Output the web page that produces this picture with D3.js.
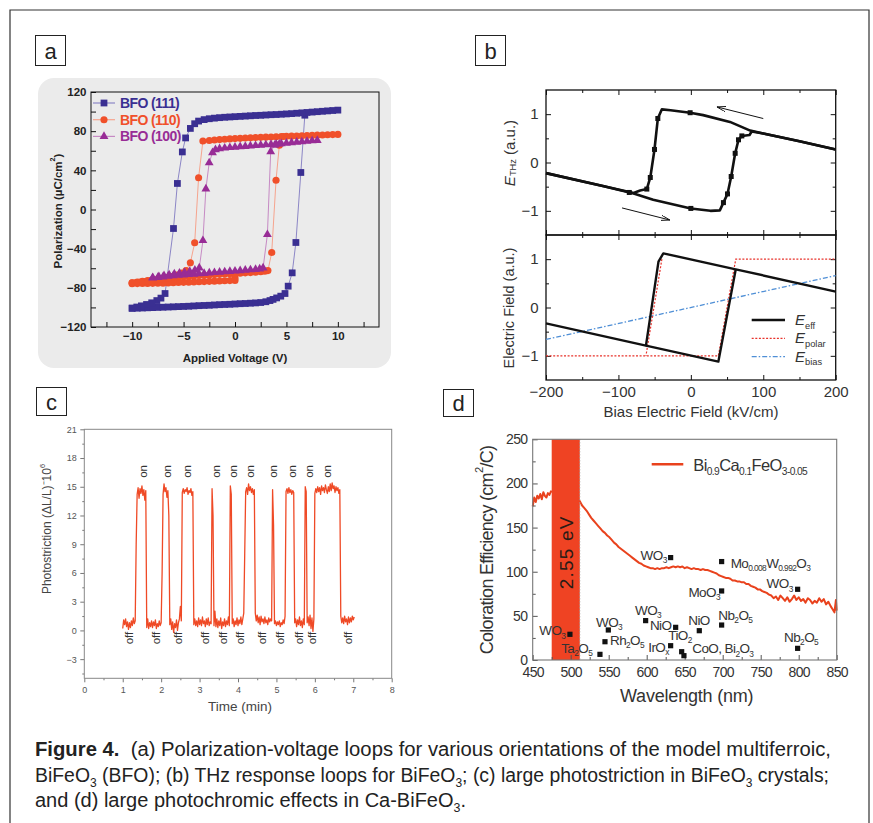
<!DOCTYPE html>
<html>
<head>
<meta charset="utf-8">
<title>Figure 4</title>
<script src="https://cdn.jsdelivr.net/npm/d3@7/dist/d3.min.js"></script>
<style>
  body { margin: 0; background: #fff; }
  svg text { font-family: "Liberation Sans", Arial, Helvetica, sans-serif; }
</style>
</head>
<body>
<svg id="fig" width="873" height="823"></svg>
<script>
// ---------- (a) P-V loops : [voltage (V), polarization (uC/cm2)] ----------
const aXTicks = [-12.5, -10, -7.5, -5, -2.5, 0, 2.5, 5, 7.5, 10, 12.5];
const aXLabels = [-10, -5, 0, 5, 10];
const aYTicks = [-120, -100, -80, -60, -40, -20, 0, 20, 40, 60, 80, 100, 120];
const aYLabels = [-120, -80, -40, 0, 40, 80, 120];
const aNames = ['BFO (111)', 'BFO (110)', 'BFO (100)'];

const aBlueUp = [[-10,-101],[-9.5,-100.8],[-9,-100.6],[-8.5,-100.4],[-8,-100.2],[-7.5,-100],[-7,-99.8],[-6.5,-99.6],[-6,-99.4],[-5.5,-99.2],[-5,-99],[-4.5,-98.8],[-4,-98.5],[-3.5,-98.2],[-3,-98],[-2.5,-97.8],[-2,-97.5],[-1.5,-97.2],[-1,-97],[-0.5,-96.8],[0,-96.5],[0.5,-96.2],[1,-96],[1.5,-95.7],[2,-95.4],[2.5,-95],[3,-94.2],[3.4,-93],[3.7,-91.8],[4.05,-90.3],[4.45,-88.5],[4.86,-85.8],[5.17,-78.3],[5.56,-64.7],[5.92,-33.7],[6.4,37.8],[6.79,96.3]];
const aBlueDown = [[10,101.5],[9.5,101.1],[9,100.7],[8.5,100.3],[8,99.9],[7.5,99.5],[7,99.1],[6.5,98.7],[6,98.3],[5.5,97.9],[5,97.6],[4.5,97.3],[4,97],[3.5,96.8],[3,96.5],[2.5,96.2],[2,96],[1.5,95.7],[1,95.4],[0.5,95.1],[0,94.8],[-0.5,94.5],[-1,94.2],[-1.5,93.8],[-2,93.3],[-2.5,92.7],[-3,91.8],[-3.54,90.3],[-3.92,87.6],[-4.34,82.8],[-4.8,73.1],[-5.12,58.8],[-5.6,26.6],[-5.98,-19.4],[-6.8,-85.8],[-7.2,-90.5],[-7.6,-93],[-8.1,-95.3],[-8.6,-97],[-9.1,-98.4],[-9.55,-99.6],[-10,-100.6]];

const aOrangeDown = [[10,76.7],[9.5,76.5],[9,76.3],[8.5,76.1],[8,75.9],[7.5,75.7],[7,75.5],[6.5,75.3],[6,75.1],[5.5,74.9],[5,74.7],[4.5,74.5],[4,74.3],[3.5,74.1],[3,73.9],[2.5,73.7],[2,73.5],[1.5,73.2],[1,73],[0.5,72.7],[0,72.4],[-0.5,72.1],[-1,71.8],[-1.5,71.4],[-2,71],[-2.5,70.5],[-3.12,69.9],[-3.54,32.4],[-3.92,-34],[-4.34,-54.5],[-4.76,-62.4],[-5.2,-65],[-5.7,-67],[-6.2,-68.5],[-6.7,-69.8],[-7.2,-70.8],[-7.7,-71.8],[-8.2,-72.7],[-8.7,-73.5],[-9.2,-74.2],[-9.6,-74.6],[-10,-75]];
const aOrangeUp = [[-10,-75],[-9.5,-74.2],[-9,-73.4],[-8.5,-72.6],[-8,-71.8],[-7.5,-71.1],[-7,-70.5],[-6.5,-70],[-6,-69.5],[-5.5,-69],[-5,-68.6],[-4.5,-68.2],[-4,-67.8],[-3.5,-67.4],[-3,-67.1],[-2.5,-66.8],[-2,-66.5],[-1.5,-66.2],[-1,-65.9],[-0.5,-65.6],[0,-65.3],[0.5,-65],[1,-64.7],[1.5,-64.4],[2,-64],[2.5,-63.5],[2.9,-63],[3.2,-62.4],[3.57,-43.9],[3.99,29.9],[4.31,65.7],[4.7,74.5]];
const aOrangeStart = [[0,-70],[0,-72.4],[-0.5,-72.6],[-1,-72.8],[-1.5,-73],[-2,-73.2],[-2.5,-73.4],[-3,-73.6],[-3.5,-73.8],[-4,-74],[-4.5,-74.2],[-5,-74.4],[-5.5,-74.6],[-6,-74.8],[-6.5,-75],[-7,-75.2],[-7.5,-75.3],[-8,-75.4],[-8.5,-75.5],[-9,-75.6],[-9.5,-75.7],[-10,-75.8]];

const aPurpleDown = [[8,70.6],[7.5,70.2],[7,69.7],[6.5,69.2],[6,68.7],[5.5,68.2],[5,67.7],[4.5,67.3],[4,66.9],[3.5,66.5],[3,66.1],[2.5,65.7],[2,65.3],[1.5,64.9],[1,64.5],[0.5,64.1],[0,63.7],[-0.5,63.3],[-1,62.8],[-1.5,62.2],[-1.9,61.2],[-2.19,58],[-2.51,47.7],[-2.83,21.1],[-3.12,-31.7],[-3.47,-59.7],[-3.9,-62],[-4.4,-63.2],[-4.9,-64.2],[-5.4,-65],[-5.9,-65.8],[-6.4,-66.7],[-6.9,-67.6],[-7.4,-68.5],[-8,-69.5]];
const aPurpleUp = [[-8,-70],[-7.5,-69.4],[-7,-68.8],[-6.5,-68.2],[-6,-67.7],[-5.5,-67.2],[-5,-66.8],[-4.5,-66.4],[-4,-66],[-3.5,-65.6],[-3,-65.2],[-2.5,-64.8],[-2,-64.4],[-1.5,-64],[-1,-63.6],[-0.5,-63.2],[0,-62.8],[0.5,-62.4],[1,-62],[1.5,-61.6],[2,-61.2],[2.4,-60.6],[2.73,-59.7],[3.15,-25.6],[3.47,59],[3.86,65.8],[4.3,66.9]];

// ---------- (b) THz loops : [bias field (kV/cm), field (a.u.)] ----------
const bXMajor = [-200, -100, 0, 100, 200];
const bXMinor = [-150, -50, 50, 150];
const bYMajor = [-1, 0, 1];
const bYMinor = [-0.5, 0.5];
const bThzDown = [[200,0.27],[150,0.44],[100,0.60],[82,0.66],[54,0.84],[17,0.98],[-1,1.03],[-28,1.08],[-40,1.10],[-45.6,0.91],[-50.2,0.27],[-56,-0.31],[-60.8,-0.55],[-70,-0.58],[-79,-0.63],[-120,-0.49],[-200,-0.22]];
const bThzUp = [[-200,-0.22],[-120,-0.49],[-79,-0.64],[-52,-0.77],[0,-0.95],[27,-1.0],[40,-0.99],[45,-0.83],[50.6,-0.65],[55.7,-0.29],[61.2,0.19],[65.8,0.47],[70.4,0.55],[81,0.57],[84,0.64],[100,0.60],[150,0.44],[200,0.27]];
const bThzMarks = [[-1,1.03],[-45.6,0.91],[-50.2,0.27],[-56,-0.31],[-60.8,-0.55],[-85,-0.62],[0,-0.95],[45,-0.83],[50.6,-0.65],[55.7,-0.29],[61.2,0.19],[65.8,0.47],[70.4,0.55]];
const bArrows = [[[100,0.91],[36,1.15]], [[-95,-0.94],[-29,-1.19]]];
const bEffDown = [[200,0.33],[62,0.79],[-38,1.12],[-44.7,0.95],[-62,-0.79],[-200,-0.33]];
const bEffUp = [[-62,-0.79],[38,-1.12],[62,0.79]];
const bPolarA = [[-200,-1],[38,-1],[62,1],[200,1]];
const bPolarB = [[-40,1],[-62,-1]];
const bBias = [[-200,-0.66],[200,0.66]];

// ---------- (c) photostriction : time from 1.0 min every 0.025 min ----------
const cStart = 1.0, cStep = 0.025;
const cVals = [
  0.2,1.1,0.6,1.2,0.4,0.9,0.1,0.8,0.3,1.0,0.5,1.3,0.7,1.0,9.0,14.2,14.9,13.8,14.8,14.3,
  15.1,14.1,14.7,13.6,14.6,0.3,1.2,0.2,0.8,0.4,1.0,0.3,0.9,0.5,1.1,0.2,0.7,0.4,1.0,0.5,
  0.8,6.0,14.2,15.3,14.5,14.9,13.9,14.6,12.0,0.6,1.2,0.1,0.9,-0.2,0.7,0.3,1.1,0.0,0.8,1.2,
  2.5,1.0,14.4,14.8,14.3,14.7,14.5,14.9,14.2,14.6,14.4,14.8,14.1,14.5,0.6,1.2,0.5,1.0,0.4,1.3,
  0.6,1.1,0.5,1.4,0.7,1.0,0.4,1.2,0.6,1.3,0.5,0.9,0.7,14.8,12.0,0.5,2.0,0.4,1.2,0.3,
  1.0,0.5,1.3,0.2,0.9,0.5,1.2,0.4,1.0,0.6,1.4,0.5,15.1,14.2,0.7,1.2,0.4,1.0,0.6,1.3,
  0.5,1.1,0.7,1.4,0.6,1.2,1.8,8.0,14.5,14.9,14.2,15.3,14.6,15.0,14.4,14.8,14.2,14.7,1.8,1.0,
  1.6,0.8,1.4,0.6,1.5,0.9,1.2,0.7,1.4,0.8,1.1,0.6,1.3,0.9,1.2,1.0,14.7,11.0,0.7,1.0,
  0.5,0.9,0.6,1.0,0.4,0.8,0.6,1.1,0.7,1.5,14.5,14.8,14.3,14.9,14.4,14.7,14.2,14.6,14.4,0.8,
  1.2,0.4,1.1,0.6,1.4,0.5,1.0,0.3,1.2,0.6,15.0,14.5,0.8,1.4,0.5,1.6,0.2,1.3,-0.1,1.2,
  14.3,14.8,14.4,15.0,14.5,14.9,14.2,15.1,14.6,14.9,14.4,15.2,14.7,14.3,15.0,14.5,15.3,14.6,15.4,14.8,
  15.1,14.4,15.0,14.6,14.9,14.3,14.7,1.5,0.8,1.3,0.7,1.5,0.9,1.2,0.6,1.4,0.8,1.3,0.9,1.5,
  1.1,1.4
];
const cOnTimes = [1.54, 2.16, 2.68, 3.43, 3.86, 4.31, 4.91, 5.40, 5.86, 6.31];
const cOffTimes = [1.17, 1.87, 2.43, 3.13, 3.60, 4.04, 4.62, 5.10, 5.60, 5.92, 6.85];
const cXMajor = [0, 1, 2, 3, 4, 5, 6, 7, 8];
const cXMinor = [0.5, 1.5, 2.5, 3.5, 4.5, 5.5, 6.5, 7.5];
const cYMajor = [-3, 0, 3, 6, 9, 12, 15, 18, 21];
const cYMinor = [-4.5, -1.5, 1.5, 4.5, 7.5, 10.5, 13.5, 16.5, 19.5];

// ---------- (d) coloration efficiency : [wavelength (nm), cm2/C] ----------
const dXMajor = [450, 500, 550, 600, 650, 700, 750, 800, 850];
const dXMinor = [475, 525, 575, 625, 675, 725, 775, 825];
const dYMajor = [0, 50, 100, 150, 200, 250];
const dYMinor = [25, 75, 125, 175, 225];
const dWave = [450,452,454,456,458,460,462,464,466,468,470,472,474,490,505,512,515,518,521,524,527,530,533,536,539,542,545,548,551,554,557,560,563,566,569,572,575,578,581,584,587,590,593,596,599,602,605,608,611,614,617,620,623,626,629,632,635,638,641,644,647,650,653,656,659,662,665,668,671,674,677,680,683,686,689,692,695,698,701,704,707,710,713,716,719,722,725,728,731,734,737,740,743,746,749,752,755,758,761,764,767,770,773,776,779,782,785,788,791,794,797,800,803,806,809,812,815,818,821,824,827,830,833,836,839,842,845,847,849,850];
const dEff = [174,184,179,186,183,188,182,190,186,184,189,187,191,188,184,180,175,172,169,165,161,158,155,152,149,146,144,141,139,136,133,131,128,126,124,122,120,118,116,114,112,110,109,107,106,105,104,104,103,104,103,104,104,105,104,105,106,105,106,105,106,104,105,104,103,104,103,103,102,103,102,102,101,100,99,98,96,95,94,93,93,92,90,90,89,89,88,88,86,86,84,83,82,80,80,78,77,76,74,73,70,72,68,73,70,67,71,66,69,73,68,71,67,69,65,70,68,64,67,65,70,66,69,63,66,61,57,54,68,56];
const dBand = [475, 512];
const dBandLabel = '2.55 eV';
const dRefWave = [631.5, 698.6, 698.6, 798.6, 698.6, 798.6, 669.2, 638.1, 598.6, 549.5, 545.1, 538.5, 499, 631.5, 646, 649];
const dRefEff = [116, 111.5, 78.2, 80.1, 39.6, 13.2, 33.2, 37, 44.6, 34, 20.7, 6.4, 29.1, 16.2, 9.4, 4.9];
const dRefLabels = [
  {parts: ['WO', ['3','sub']], at: [626.3, 113.4], anchor: 'end'},
  {parts: ['Mo', ['0.008','sub'], 'W', ['0.992','sub'], 'O', ['3','sub']], at: [710.5, 104.6], anchor: 'start'},
  {parts: ['MoO', ['3','sub']], at: [696.4, 71.8], anchor: 'end'},
  {parts: ['WO', ['3','sub']], at: [792.1, 81.3], anchor: 'end'},
  {parts: ['Nb', ['2','sub'], 'O', ['5','sub']], at: [694.2, 45.4], anchor: 'start'},
  {parts: ['NiO'], at: [654.7, 39.7], anchor: 'start'},
  {parts: ['WO', ['3','sub']], at: [584.6, 51], anchor: 'start'},
  {parts: ['NiO'], at: [604.3, 34], anchor: 'start'},
  {parts: ['WO', ['3','sub']], at: [533.3, 37.8], anchor: 'start'},
  {parts: ['TiO', ['2','sub']], at: [628.4, 22.7], anchor: 'start'},
  {parts: ['Rh', ['2','sub'], 'O', ['5','sub']], at: [551.7, 17], anchor: 'start'},
  {parts: ['IrO', ['x','sub']], at: [602.1, 9.4], anchor: 'start'},
  {parts: ['CoO, Bi', ['2','sub'], 'O', ['3','sub']], at: [660, 7.6], anchor: 'start'},
  {parts: ['Nb', ['2','sub'], 'O', ['5','sub']], at: [780.7, 20.7], anchor: 'start'},
  {parts: ['WO', ['3','sub']], at: [458.7, 28], anchor: 'start'},
  {parts: ['Ta', ['2','sub'], 'O', ['5','sub']], at: [487.5, 8.4], anchor: 'start'}
];

const svg = d3.select('#fig');

// axis with hand-picked ticks, no domain line
function axisG(g, axisFn, scale, values, size, pad, fmt, transform) {
  const ga = g.append('g')
    .attr('transform', transform)
    .call(axisFn(scale).tickValues(values).tickSizeInner(size).tickSizeOuter(0)
      .tickPadding(pad).tickFormat(fmt || (() => '')));
  ga.select('.domain').remove();
  ga.attr('font-family', null).attr('font-size', null);
  return ga;
}

// text with sub/superscripts, bold and italic runs
function rich(sel, parts, size) {
  let shift = 0;
  parts.forEach(p => {
    const [s, kind] = Array.isArray(p) ? p : [p, ''];
    const t = sel.append('tspan').text(s);
    let target = 0;
    if (kind === 'sub') { target = size * 0.25; t.attr('font-size', size * 0.62); }
    if (kind === 'sup') { target = -size * 0.42; t.attr('font-size', size * 0.62); }
    if (kind === 'b') t.attr('font-weight', 'bold');
    if (kind === 'i') t.attr('font-style', 'italic');
    if (target !== shift) { t.attr('dy', target - shift); shift = target; }
  });
  return sel;
}

function rotLabel(g, x, y, parts, size, color, extra) {
  const t = g.append('text')
    .attr('transform', `translate(${x},${y}) rotate(-90)`)
    .attr('text-anchor', 'middle')
    .attr('font-size', size)
    .attr('fill', color);
  if (extra) extra(t);
  return rich(t, parts, size);
}

// outer frame
svg.append('path').attr('d', 'M10,823V10H869V823')
  .attr('fill', 'none').attr('stroke', '#333').attr('stroke-width', 1.2);

// panel letters
[['a', 35, 35, 30, 30], ['b', 475, 35, 30, 30], ['c', 36, 387, 30, 28], ['d', 443, 389, 30, 27]]
  .forEach(([s, x, y, w, h]) => {
    svg.append('rect').attr('x', x + 0.5).attr('y', y + 0.5).attr('width', w).attr('height', h)
      .attr('fill', '#fff').attr('stroke', '#222').attr('stroke-width', 1);
    svg.append('text').attr('x', x + w / 2 + 0.5).attr('y', y + h / 2 + 1)
      .attr('text-anchor', 'middle').attr('dominant-baseline', 'central')
      .attr('font-size', 22).attr('fill', '#222').text(s);
  });

// ================= panel a =================
const gA = svg.append('g');
gA.append('rect').attr('x', 38).attr('y', 78).attr('width', 353).attr('height', 290)
  .attr('rx', 16).attr('fill', '#ebebeb');
const ax = d3.scaleLinear().domain([-14, 14]).range([91, 379]);
const ay = d3.scaleLinear().domain([-120, 120]).range([327, 92]);
const fmtInt = d3.format('d');

let axa = axisG(gA, d3.axisBottom, ax, aXTicks, -5, 5,
  d => aXLabels.includes(d) ? fmtInt(d) : '', `translate(0,${ay(-120)})`);
axa.attr('color', '#111');
axa.selectAll('text').attr('font-size', 11.5).attr('font-weight', 'bold').attr('fill', '#222');
axa = axisG(gA, d3.axisLeft, ay, aYTicks, -5, 4.5,
  d => aYLabels.includes(d) ? fmtInt(d) : '', `translate(${ax(-14)},0)`);
axa.attr('color', '#111');
axa.selectAll('text').attr('font-size', 11.5).attr('font-weight', 'bold').attr('fill', '#222');
gA.append('rect').attr('x', ax(-14)).attr('y', ay(120))
  .attr('width', ax(14) - ax(-14)).attr('height', ay(-120) - ay(120))
  .attr('fill', 'none').attr('stroke', '#111').attr('stroke-width', 1);

const aLine = d3.line().x(d => ax(d[0])).y(d => ay(d[1]));
const aStyles = [
  {color: '#3a2f92', light: '#8c86c6', shape: d3.symbolSquare, size: 46},
  {color: '#f0502a', light: '#f6a48e', shape: d3.symbolCircle, size: 40},
  {color: '#982c96', light: '#c68ac4', shape: d3.symbolTriangle, size: 34}
];
const aSeries = [[aBlueUp, aBlueDown], [aOrangeStart, aOrangeDown, aOrangeUp], [aPurpleDown, aPurpleUp]];

aSeries.forEach((branches, i) => {
  const st = aStyles[i];
  const g = gA.append('g');
  branches.forEach(b => g.append('path').datum(b).attr('d', aLine)
    .attr('fill', 'none').attr('stroke', st.light).attr('stroke-width', 1));
  g.selectAll(null).data(branches.flat()).join('path')
    .attr('transform', d => `translate(${ax(d[0])},${ay(d[1])})`)
    .attr('d', d3.symbol(st.shape, st.size))
    .attr('fill', st.color);
});

// legend
aNames.forEach((name, i) => {
  const st = aStyles[i];
  const y = 103 + i * 16.7;
  gA.append('line').attr('x1', 93).attr('x2', 115).attr('y1', y).attr('y2', y)
    .attr('stroke', st.light).attr('stroke-width', 1.2);
  gA.append('path').attr('transform', `translate(104,${y})`)
    .attr('d', d3.symbol(st.shape, st.size)).attr('fill', st.color);
  gA.append('text').attr('x', 120).attr('y', y).attr('dominant-baseline', 'central')
    .attr('font-size', 14).attr('font-weight', 'bold').attr('letter-spacing', -0.6)
    .attr('fill', st.color).text(name);
});
rotLabel(gA, 58, 211, ['Polarization (µC/cm', ['2', 'sup'], ')'], 11.5, '#222',
  t => t.attr('font-weight', 'bold').attr('dominant-baseline', 'central'));
gA.append('text').attr('x', 235).attr('y', 362).attr('text-anchor', 'middle')
  .attr('font-size', 11.5).attr('font-weight', 'bold').attr('fill', '#222')
  .text('Applied Voltage (V)');

// ================= panel b =================
const gB = svg.append('g');
const bx = d3.scaleLinear().domain([-200, 200]).range([546, 835.7]);
const byT = d3.scaleLinear().domain([-1.5, 1.5]).range([235, 90]);
const byB = d3.scaleLinear().domain([-1.5, 1.5]).range([380, 235]);

function bBox(y, withX) {
  const top = y(1.5), bot = y(-1.5), left = bx(-200), right = bx(200);
  [[bXMajor, -5], [bXMinor, -3]].forEach(([vals, s], k) => {
    const lab = withX && k === 0 ? fmtInt : null;
    const a1 = axisG(gB, d3.axisBottom, bx, vals, s, 6, lab, `translate(0,${bot})`);
    a1.attr('color', '#111');
    a1.selectAll('text').attr('font-size', 15).attr('fill', '#333');
    axisG(gB, d3.axisTop, bx, vals, s, 0, null, `translate(0,${top})`).attr('color', '#111');
  });
  [[bYMajor, -5], [bYMinor, -3]].forEach(([vals, s], k) => {
    const a1 = axisG(gB, d3.axisLeft, y, vals, s, 7.5, k === 0 ? fmtInt : null, `translate(${left},0)`);
    a1.attr('color', '#111');
    a1.selectAll('text').attr('font-size', 15).attr('fill', '#333');
    axisG(gB, d3.axisRight, y, vals, s, 0, null, `translate(${right},0)`).attr('color', '#111');
  });
  gB.append('rect').attr('x', left).attr('y', top).attr('width', right - left).attr('height', bot - top)
    .attr('fill', 'none').attr('stroke', '#111').attr('stroke-width', 1.3);
}
bBox(byT, false);
bBox(byB, true);

const bLineT = d3.line().x(d => bx(d[0])).y(d => byT(d[1]));
const bLineB = d3.line().x(d => bx(d[0])).y(d => byB(d[1]));
[bThzDown, bThzUp].forEach(b => gB.append('path').datum(b).attr('d', bLineT)
  .attr('fill', 'none').attr('stroke', '#111').attr('stroke-width', 2.6).attr('stroke-linejoin', 'round'));
gB.selectAll(null).data(bThzMarks).join('rect')
  .attr('x', d => bx(d[0]) - 2.5).attr('y', d => byT(d[1]) - 2.5)
  .attr('width', 5).attr('height', 5).attr('fill', '#111');

svg.append('defs').append('marker').attr('id', 'arrowHead')
  .attr('viewBox', '0 0 10 6').attr('refX', 10).attr('refY', 3)
  .attr('markerWidth', 9).attr('markerHeight', 5.4).attr('markerUnits', 'userSpaceOnUse')
  .attr('orient', 'auto')
  .append('path').attr('d', 'M0,0L10,3L0,6').attr('fill', 'none').attr('stroke', '#111').attr('stroke-width', 1);
bArrows.forEach(([p0, p1]) => gB.append('line')
  .attr('x1', bx(p0[0])).attr('y1', byT(p0[1])).attr('x2', bx(p1[0])).attr('y2', byT(p1[1]))
  .attr('stroke', '#111').attr('stroke-width', 1).attr('marker-end', 'url(#arrowHead)'));

gB.append('path').datum(bBias).attr('d', bLineB).attr('fill', 'none')
  .attr('stroke', '#4f8fd6').attr('stroke-width', 1.3).attr('stroke-dasharray', '5,2,1.5,2');
[bPolarA, bPolarB].forEach(b => gB.append('path').datum(b).attr('d', bLineB).attr('fill', 'none')
  .attr('stroke', '#e8322b').attr('stroke-width', 1.2).attr('stroke-dasharray', '2,1.6'));
[bEffDown, bEffUp].forEach(b => gB.append('path').datum(b).attr('d', bLineB).attr('fill', 'none')
  .attr('stroke', '#111').attr('stroke-width', 2.4).attr('stroke-linejoin', 'round'));

// legend of lower plot
const bLegend = [
  {sub: 'eff', stroke: '#111', width: 2.6, dash: null},
  {sub: 'polar', stroke: '#e8322b', width: 1.3, dash: '2,1.6'},
  {sub: 'bias', stroke: '#4f8fd6', width: 1.3, dash: '5,2,1.5,2'}
];
bLegend.forEach((l, i) => {
  const y = 320 + i * 18.3;
  gB.append('line').attr('x1', 751.7).attr('x2', 785).attr('y1', y).attr('y2', y)
    .attr('stroke', l.stroke).attr('stroke-width', l.width).attr('stroke-dasharray', l.dash);
  rich(gB.append('text').attr('x', 795).attr('y', y + 5).attr('font-size', 15).attr('fill', '#333'),
    [['E', 'i'], [l.sub, 'sub']], 15);
});
rotLabel(gB, 509, 153, [['E', 'i'], ['THz', 'sub'], ' (a.u.)'], 15, '#333',
  t => t.attr('dominant-baseline', 'central'));
rotLabel(gB, 509, 308, ['Electric Field (a.u.)'], 14.5, '#333',
  t => t.attr('dominant-baseline', 'central'));
gB.append('text').attr('x', 691).attr('y', 416.5).attr('text-anchor', 'middle')
  .attr('font-size', 15).attr('fill', '#333').text('Bias Electric Field (kV/cm)');

// ================= panel c =================
const gC = svg.append('g');
const cx = d3.scaleLinear().domain([0, 8]).range([84.3, 391.7]);
const cy = d3.scaleLinear().domain([-5, 21]).range([678.3, 429.3]);
let axc = axisG(gC, d3.axisBottom, cx, cXMajor, 4, 4.5, fmtInt, `translate(0,${cy(-5)})`);
axc.attr('color', '#777');
axc.selectAll('text').attr('font-size', 9).attr('fill', '#555');
axisG(gC, d3.axisBottom, cx, cXMinor, 2, 0, null, `translate(0,${cy(-5)})`).attr('color', '#777');
axc = axisG(gC, d3.axisLeft, cy, cYMajor, 4, 3.6, fmtInt, `translate(${cx(0)},0)`);
axc.attr('color', '#777');
axc.selectAll('text').attr('font-size', 9).attr('fill', '#555');
axisG(gC, d3.axisLeft, cy, cYMinor, 2, 0, null, `translate(${cx(0)},0)`).attr('color', '#777');
gC.append('rect').attr('x', cx(0)).attr('y', cy(21)).attr('width', cx(8) - cx(0)).attr('height', cy(-5) - cy(21))
  .attr('fill', 'none').attr('stroke', '#888').attr('stroke-width', 1);

const cLine = d3.line().x((d, i) => cx(cStart + i * cStep)).y(d => cy(d));
gC.append('path').datum(cVals).attr('d', cLine).attr('fill', 'none')
  .attr('stroke', '#ef4a26').attr('stroke-width', 1.3).attr('stroke-linejoin', 'round');

cOnTimes.forEach(t => gC.append('text')
  .attr('transform', `translate(${cx(t)},${cy(16.6)}) rotate(-90)`)
  .attr('text-anchor', 'middle').attr('dominant-baseline', 'central')
  .attr('font-size', 11.5).attr('fill', '#333').text('on'));
cOffTimes.forEach(t => gC.append('text')
  .attr('transform', `translate(${cx(t)},${cy(-0.8)}) rotate(-90)`)
  .attr('text-anchor', 'middle').attr('dominant-baseline', 'central')
  .attr('font-size', 11.5).attr('fill', '#333').text('off'));

rotLabel(gC, 46.7, 529, ['Photostriction (ΔL/L)', ['⁻', ''], '10', ['6', 'sup']], 12, '#444',
  t => t.attr('dominant-baseline', 'central'));
gC.append('text').attr('x', 240).attr('y', 711).attr('text-anchor', 'middle')
  .attr('font-size', 13.5).attr('fill', '#444').text('Time (min)');

// ================= panel d =================
const gD = svg.append('g');
const dx = d3.scaleLinear().domain([450, 850]).range([532.7, 836.7]);
const dy = d3.scaleLinear().domain([0, 250]).range([660, 439.3]);

const dLine = d3.line().x((d, i) => dx(dWave[i])).y(d => dy(d));
gD.append('path').datum(dEff).attr('d', dLine).attr('fill', 'none')
  .attr('stroke', '#e9421d').attr('stroke-width', 2).attr('stroke-linejoin', 'round');
gD.append('rect').attr('x', dx(dBand[0])).attr('y', dy(250))
  .attr('width', dx(dBand[1]) - dx(dBand[0])).attr('height', dy(0) - dy(250))
  .attr('fill', '#ef4323');
gD.append('line').attr('x1', dx(dBand[1])).attr('x2', dx(dBand[1])).attr('y1', dy(250)).attr('y2', dy(0))
  .attr('stroke', '#999').attr('stroke-width', 1).attr('stroke-dasharray', '1,2');
gD.append('text')
  .attr('transform', `translate(${dx(494)},${dy(122)}) rotate(-90)`)
  .attr('text-anchor', 'middle').attr('dominant-baseline', 'central')
  .attr('font-size', 19).attr('letter-spacing', 1.2).attr('fill', '#2a1b16').text(dBandLabel);

let axd = axisG(gD, d3.axisBottom, dx, dXMajor, -5, 6.8, fmtInt, `translate(0,${dy(0)})`);
axd.attr('color', '#555');
axd.selectAll('text').attr('font-size', 14).attr('letter-spacing', -0.7).attr('fill', '#333');
axisG(gD, d3.axisBottom, dx, dXMinor, -3, 0, null, `translate(0,${dy(0)})`).attr('color', '#555');
axd = axisG(gD, d3.axisLeft, dy, dYMajor, -5, 5.4, fmtInt, `translate(${dx(450)},0)`);
axd.attr('color', '#555');
axd.selectAll('text').attr('font-size', 14).attr('letter-spacing', -0.7).attr('fill', '#333');
axisG(gD, d3.axisLeft, dy, dYMinor, -3, 0, null, `translate(${dx(450)},0)`).attr('color', '#555');
gD.append('rect').attr('x', dx(450)).attr('y', dy(250)).attr('width', dx(850) - dx(450)).attr('height', dy(0) - dy(250))
  .attr('fill', 'none').attr('stroke', '#777').attr('stroke-width', 1.1);

gD.selectAll(null).data(dRefWave).join('rect')
  .attr('x', (d, i) => dx(d) - 2.6).attr('y', (d, i) => dy(dRefEff[i]) - 2.6)
  .attr('width', 5.2).attr('height', 5.2).attr('fill', '#111');
dRefLabels.forEach(l => rich(gD.append('text')
  .attr('x', dx(l.at[0])).attr('y', dy(l.at[1]))
  .attr('text-anchor', l.anchor).attr('font-size', 13.5).attr('letter-spacing', -0.6).attr('fill', '#333'),
  l.parts, 13.5));

gD.append('line').attr('x1', 651.7).attr('x2', 683.3).attr('y1', 464.3).attr('y2', 464.3)
  .attr('stroke', '#e9421d').attr('stroke-width', 2.6);
rich(gD.append('text').attr('x', 693.3).attr('y', 471).attr('font-size', 16.5)
  .attr('letter-spacing', -0.6).attr('fill', '#333'),
  ['Bi', ['0.9', 'sub'], 'Ca', ['0.1', 'sub'], 'FeO', ['3-0.05', 'sub']], 16.5);

rotLabel(gD, 486.7, 550, ['Coloration Efficiency (cm', ['2', 'sup'], '/C)'], 18, '#333',
  t => t.attr('dominant-baseline', 'central').attr('letter-spacing', -0.7));
gD.append('text').attr('x', 686.7).attr('y', 701.7).attr('text-anchor', 'middle')
  .attr('font-size', 18).attr('letter-spacing', -0.2).attr('fill', '#333').text('Wavelength (nm)');

// ================= caption =================
const capLines = [
  {parts: [['Figure 4.', 'b'], '  (a) Polarization-voltage loops for various orientations of the model multiferroic,'], y: 755.7, len: 796},
  {parts: ['BiFeO', ['3', 'sub'], ' (BFO); (b) THz response loops for BiFeO', ['3', 'sub'], '; (c) large photostriction in BiFeO', ['3', 'sub'], ' crystals;'], y: 782, len: 794},
  {parts: ['and (d) large photochromic effects in Ca-BiFeO', ['3', 'sub'], '.'], y: 807.3, len: 431}
];
capLines.forEach(l => {
  const t = svg.append('text').attr('x', 35).attr('y', l.y).attr('font-size', 20)
    .attr('fill', '#222').style('white-space', 'pre');
  rich(t, l.parts, 20);
  t.attr('textLength', l.len).attr('lengthAdjust', 'spacingAndGlyphs');
});
</script>
</body>
</html>
